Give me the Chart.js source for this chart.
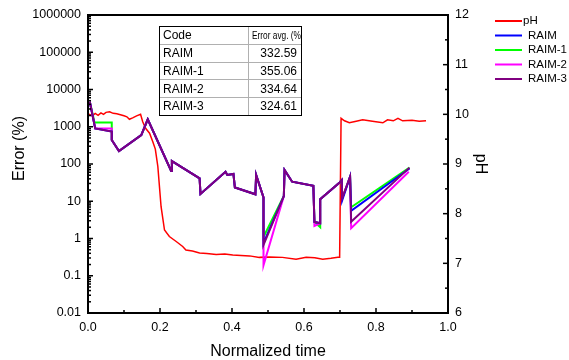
<!DOCTYPE html>
<html><head><meta charset="utf-8">
<script src="https://cdn.jsdelivr.net/npm/chart.js@4.4.1/dist/chart.umd.min.js"></script>
<style>html,body{margin:0;padding:0;background:#fff}#wrap{width:569px;height:360px}</style>
</head><body><div id="wrap"><canvas id="c" width="569" height="360"></canvas></div>
<script>
const FONT = '"Liberation Sans", Arial, Helvetica, sans-serif';

// ---- tick labels ----
const X_TICKS = [0, 0.2, 0.4, 0.6, 0.8, 1.0];
const X_LABELS = ['0.0', '0.2', '0.4', '0.6', '0.8', '1.0'];
const X_MINOR = [0.1, 0.3, 0.5, 0.7, 0.9];
const Y_TICKS = [0.01, 0.1, 1, 10, 100, 1000, 10000, 100000, 1000000];
const Y_LABELS = ['0.01', '0.1', '1', '10', '100', '1000', '10000', '100000', '1000000'];
const PH_TICKS = [6, 7, 8, 9, 10, 11, 12];
const PH_LABELS = ['6', '7', '8', '9', '10', '11', '12'];
const PH_MINOR = [6.5, 7.5, 8.5, 9.5, 10.5, 11.5];

// ---- table ----
const TABLE_HEAD = ['Code', 'Error avg. (%'];
const TABLE_CODES = ['RAIM', 'RAIM-1', 'RAIM-2', 'RAIM-3'];
const TABLE_ERRORS = ['332.59', '355.06', '334.64', '324.61'];

// ---- series: pH ----
const phTime = [0, 0.004, 0.012, 0.02, 0.028, 0.036, 0.043, 0.05, 0.06, 0.07, 0.08, 0.09, 0.1, 0.108, 0.115, 0.124, 0.135, 0.146, 0.152, 0.16, 0.171, 0.18, 0.187, 0.194, 0.203, 0.2125, 0.226, 0.245, 0.263, 0.272, 0.29, 0.31, 0.33, 0.356, 0.38, 0.402, 0.425, 0.449, 0.476, 0.504, 0.54, 0.578, 0.606, 0.63, 0.652, 0.675, 0.694, 0.699, 0.703, 0.7125, 0.726, 0.745, 0.763, 0.79, 0.819, 0.832, 0.848, 0.861, 0.874, 0.9, 0.92, 0.939];
const phValue = [9.98, 10.0, 9.97, 10.02, 9.98, 10.03, 10.0, 10.04, 10.05, 10.02, 10.01, 9.99, 9.97, 9.95, 9.9, 9.93, 9.97, 10.0, 9.85, 9.72, 9.62, 9.45, 9.3, 8.95, 8.14, 7.67, 7.54, 7.44, 7.34, 7.27, 7.25, 7.21, 7.2, 7.18, 7.19, 7.17, 7.16, 7.15, 7.12, 7.13, 7.12, 7.08, 7.12, 7.11, 7.08, 7.1, 7.12, 7.12, 9.92, 9.87, 9.83, 9.86, 9.89, 9.86, 9.83, 9.89, 9.87, 9.92, 9.87, 9.88, 9.86, 9.87];

// ---- series: error (%) ----
const raim3Time = [0.005, 0.020, 0.066, 0.066, 0.086, 0.148, 0.166, 0.231, 0.233, 0.310, 0.3125, 0.382, 0.387, 0.404, 0.408, 0.465, 0.467, 0.4875, 0.4875, 0.544, 0.546, 0.567, 0.626, 0.629, 0.645, 0.645, 0.699, 0.705, 0.706, 0.728, 0.731, 0.893];
const raim3Err  = [4700, 900, 740, 440, 223, 600, 1585, 65, 120, 41, 15.7, 62, 51, 54, 23.4, 15.4, 51, 12.6, 0.67, 13.8, 69, 33.5, 26, 2.8, 2.56, 11.3, 32, 37, 12, 45.6, 2.8, 80];

const raimTime = raim3Time;
const raimErr  = [4700, 900, 740, 440, 223, 600, 1585, 65, 120, 41, 15.7, 62, 51, 54, 23.4, 15.4, 51, 12.6, 0.75, 13.8, 69, 33.5, 26, 2.8, 2.56, 11.3, 32, 37, 10.5, 45.6, 5.5, 76];

const raim1Time = [0.005, 0.018, 0.066, 0.066, 0.086, 0.148, 0.166, 0.231, 0.233, 0.310, 0.3125, 0.382, 0.387, 0.404, 0.408, 0.465, 0.467, 0.4875, 0.4875, 0.544, 0.546, 0.567, 0.626, 0.629, 0.645, 0.645, 0.699, 0.705, 0.706, 0.728, 0.731, 0.893];
const raim1Err  = [4700, 1300, 1300, 440, 223, 600, 1585, 65, 120, 41, 15.7, 62, 51, 54, 23.4, 15.4, 51, 12.6, 1.1, 13.8, 69, 33.5, 26, 2.8, 2.0, 11.3, 32, 37, 12, 45.6, 6.9, 80];

const raim2Time = [0.005, 0.020, 0.066, 0.066, 0.086, 0.148, 0.166, 0.231, 0.233, 0.310, 0.3125, 0.382, 0.387, 0.404, 0.408, 0.465, 0.467, 0.4875, 0.4875, 0.544, 0.546, 0.567, 0.626, 0.629, 0.645, 0.645, 0.699, 0.705, 0.706, 0.728, 0.731, 0.891];
const raim2Err  = [4700, 900, 900, 440, 223, 600, 1585, 65, 120, 41, 15.7, 62, 51, 54, 23.4, 15.4, 51, 12.6, 0.19, 13.8, 69, 33.5, 26, 2.17, 2.56, 11.3, 32, 37, 12, 45.6, 1.88, 62];

const pts = (xs, ys) => xs.map((x, i) => ({ x: x, y: ys[i] }));

Chart.defaults.font.family = FONT;
Chart.defaults.color = '#000';

const frameTicks = {
  id: 'frameTicks',
  afterDraw(chart) {
    const { ctx, chartArea: a, scales: { x, y, y1 } } = chart;
    ctx.save();
    ctx.strokeStyle = '#000';
    const seg = (x0, y0, x1, y1_) => { ctx.beginPath(); ctx.moveTo(x0, y0); ctx.lineTo(x1, y1_); ctx.stroke(); };
    ctx.lineWidth = 1.5;
    X_TICKS.forEach(v => { const p = x.getPixelForValue(v); seg(p, a.bottom, p, a.bottom - 5); });
    X_MINOR.forEach(v => { const p = x.getPixelForValue(v); seg(p, a.bottom, p, a.bottom - 3); });
    Y_TICKS.forEach(v => { const p = y.getPixelForValue(v); seg(a.left, p, a.left + 5, p); });
    for (let i = 0; i < Y_TICKS.length - 1; i++) {
      for (let k = 2; k <= 9; k++) { const p = y.getPixelForValue(Y_TICKS[i] * k); seg(a.left, p, a.left + 3, p); }
    }
    PH_TICKS.forEach(v => { const p = y1.getPixelForValue(v); seg(a.right, p, a.right - 5, p); });
    PH_MINOR.forEach(v => { const p = y1.getPixelForValue(v); seg(a.right, p, a.right - 3, p); });
    ctx.lineWidth = 2;
    ctx.strokeRect(a.left, a.top, a.right - a.left, a.bottom - a.top);
    ctx.restore();
  }
};

const tableAndLegend = {
  id: 'tableAndLegend',
  afterDraw(chart) {
    const ctx = chart.ctx;
    ctx.save();
    // table
    const L = 159, R = 301, C = 248, T = 26, rowH = 17.8;
    const rows = TABLE_CODES.length + 1;
    ctx.fillStyle = '#fff';
    ctx.fillRect(L, T, R - L, rowH * rows);
    ctx.strokeStyle = '#b0b0b0';
    ctx.lineWidth = 1;
    for (let r = 1; r < rows; r++) {
      ctx.beginPath(); ctx.moveTo(L, Math.round(T + r * rowH) + 0.5); ctx.lineTo(R, Math.round(T + r * rowH) + 0.5); ctx.stroke();
    }
    ctx.beginPath(); ctx.moveTo(C + 0.5, T); ctx.lineTo(C + 0.5, T + rowH * rows); ctx.stroke();
    ctx.strokeStyle = '#000';
    ctx.strokeRect(L + 0.5, T + 0.5, R - L, Math.round(rowH * rows));
    ctx.fillStyle = '#000';
    ctx.font = '12px ' + FONT;
    ctx.textBaseline = 'middle';
    ctx.textAlign = 'left';
    ctx.fillText(TABLE_HEAD[0], L + 4, T + rowH / 2 + 1);
    ctx.font = '11.5px ' + FONT;
    ctx.fillText(TABLE_HEAD[1], C + 4, T + rowH / 2 + 1, R - C - 4);
    ctx.font = '12px ' + FONT;
    TABLE_CODES.forEach((c, i) => {
      const yy = T + rowH * (i + 1) + rowH / 2 + 1;
      ctx.textAlign = 'left';
      ctx.fillText(c, L + 4, yy);
      ctx.textAlign = 'right';
      ctx.fillText(TABLE_ERRORS[i], R - 4, yy);
    });
    // legend
    ctx.font = '11.5px ' + FONT;
    ctx.textAlign = 'left';
    chart.data.datasets.forEach((ds, i) => {
      const yy = 21 + i * 14.5;
      ctx.strokeStyle = ds.borderColor;
      ctx.lineWidth = 2;
      ctx.beginPath(); ctx.moveTo(495, yy); ctx.lineTo(522, yy); ctx.stroke();
      ctx.fillStyle = '#000';
      ctx.fillText(ds.label, i === 0 ? 523 : 528, yy);
    });
    ctx.restore();
  }
};

const common = { pointRadius: 0, borderWidth: 2, tension: 0, fill: false };

new Chart(document.getElementById('c'), {
  type: 'line',
  data: {
    datasets: [
      Object.assign({}, common, { label: 'pH', data: pts(phTime, phValue), borderColor: '#ff0000', borderWidth: 1.5, yAxisID: 'y1', order: 5 }),
      Object.assign({}, common, { label: 'RAIM', data: pts(raimTime, raimErr), borderColor: '#0000ff', yAxisID: 'y', order: 1 }),
      Object.assign({}, common, { label: 'RAIM-1', data: pts(raim1Time, raim1Err), borderColor: '#00ff00', yAxisID: 'y', order: 3 }),
      Object.assign({}, common, { label: 'RAIM-2', data: pts(raim2Time, raim2Err), borderColor: '#ff00ff', yAxisID: 'y', order: 2 }),
      Object.assign({}, common, { label: 'RAIM-3', data: pts(raim3Time, raim3Err), borderColor: '#800080', yAxisID: 'y', order: 0 })
    ]
  },
  options: {
    responsive: false,
    animation: false,
    layout: { padding: { left: 0, right: 77, top: 15, bottom: 0 } },
    plugins: { legend: { display: false }, tooltip: { enabled: false } },
    scales: {
      x: {
        type: 'linear', position: 'bottom', min: 0, max: 1,
        grid: { display: false, drawTicks: false }, border: { display: false },
        afterBuildTicks: s => { s.ticks = X_TICKS.map(v => ({ value: v })); },
        afterFit: s => { s.height = 47; },
        ticks: { padding: 7, font: { size: 12.5 }, maxRotation: 0, callback: (v, i) => X_LABELS[i] },
        title: { display: true, text: 'Normalized time', font: { size: 16, lineHeight: 1 }, padding: { top: 0, bottom: 0 } }
      },
      y: {
        type: 'logarithmic', position: 'left', min: 0.01, max: 1000000,
        grid: { display: false, drawTicks: false }, border: { display: false },
        afterBuildTicks: s => { s.ticks = Y_TICKS.map(v => ({ value: v })); },
        afterFit: s => { s.width = 88; },
        ticks: { padding: 7, font: { size: 12.5 }, callback: (v, i) => Y_LABELS[i] },
        title: { display: true, text: '\u00a0\u00a0\u00a0\u00a0\u00a0\u00a0\u00a0Error (%)', font: { size: 16, lineHeight: 1 }, padding: { top: 12, bottom: 0 } }
      },
      y1: {
        type: 'linear', position: 'right', min: 6, max: 12,
        grid: { display: false, drawTicks: false }, border: { display: false },
        afterBuildTicks: s => { s.ticks = PH_TICKS.map(v => ({ value: v })); },
        afterFit: s => { s.width = 44; },
        ticks: { padding: 7, font: { size: 12.5 }, callback: (v, i) => PH_LABELS[i] },
        title: { display: true, text: 'pH', font: { size: 16, lineHeight: 1 }, padding: { top: 4, bottom: 0 } }
      }
    }
  },
  plugins: [frameTicks, tableAndLegend]
});
</script>
</body></html>
